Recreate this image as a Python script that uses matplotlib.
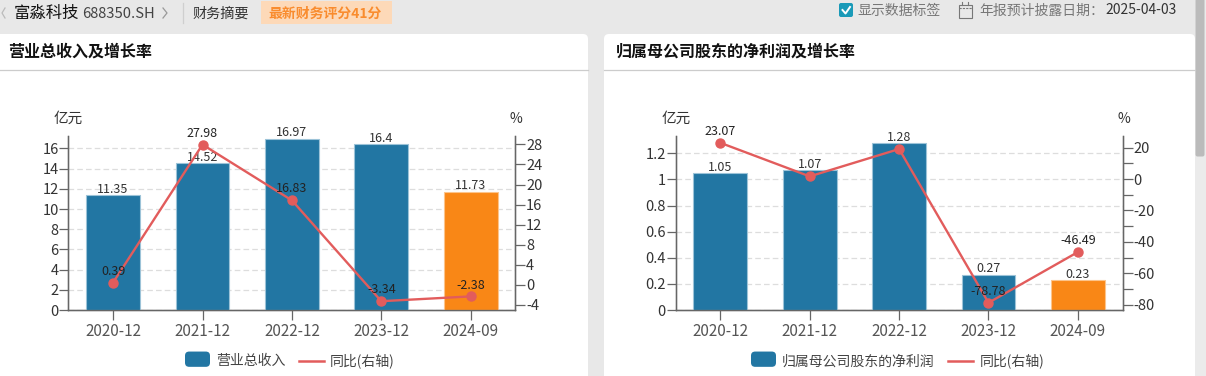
import matplotlib
matplotlib.use('Agg')
from matplotlib import pyplot as plt
from matplotlib.legend_handler import HandlerPatch
from matplotlib.lines import Line2D
from matplotlib.patches import FancyBboxPatch, Patch, Rectangle
from matplotlib.ticker import MultipleLocator, FuncFormatter

plt.rcParams['font.family'] = ['Noto Sans CJK SC', 'DejaVu Sans']

periods = ['2020-12', '2021-12', '2022-12', '2023-12', '2024-09']

revenue = [11.35, 14.52, 16.97, 16.4, 11.73]
revenueGrowth = [0.39, 27.98, 16.83, -3.34, -2.38]
revenueGrowthLabels = ['0.39', '27.98', '16.83', '-3.34', '-2.38']
profit = [1.05, 1.07, 1.28, 0.27, 0.23]
profitGrowth = [23.07, 1.7, 19.1, -78.78, -46.49]
profitGrowthLabels = ['23.07', '', '', '-78.78', '-46.49']

W, H = 1206, 376
BLUE = '#2276a3'
ORANGE = '#f98716'
RED = '#e25c5c'
AXIS = '#666666'
TEXT = '#333333'


class RoundSwatch(HandlerPatch):
    def create_artists(self, legend, orig, xd, yd, w, h, fontsize, trans):
        box = FancyBboxPatch((-xd + 2, -yd + 1), w - 4, h, boxstyle='round,pad=2,rounding_size=3',
                             fc=BLUE, ec='none', transform=trans)
        return [box]


def fmtNum(v, pos=None):
    return '%g' % round(v, 2)


def drawPanel(left, barVals, lineVals, lineLabels, leftLim, rightLim, leftStep, rightStep, rightMinor,
              barName, legendX):
    ax = fig.add_axes([left / W, (H - 310) / H, 447 / W, 174 / H])
    ax.patch.set_visible(False)
    x = range(len(periods))
    colors = [BLUE, BLUE, BLUE, BLUE, ORANGE]
    edges = ['#9cc3d8', '#9cc3d8', '#9cc3d8', '#9cc3d8', '#fcc48b']
    ax.bar(x, barVals, width=0.6, color=colors, edgecolor=edges, linewidth=0.8, zorder=3)
    ax.set_xlim(-0.5, 4.5)
    ax.set_ylim(*leftLim)
    ax.yaxis.set_major_locator(MultipleLocator(leftStep))
    ax.yaxis.set_major_formatter(FuncFormatter(fmtNum))
    ax.grid(axis='y', color='#dddddd', linestyle=(0, (4.5, 2.5)), linewidth=0.9, zorder=1)
    ax.set_axisbelow(True)
    ax.set_xticks(list(x))
    ax.set_xticklabels(periods)

    ax2 = ax.twinx()
    ax2.set_ylim(*rightLim)
    ax2.yaxis.set_major_locator(MultipleLocator(rightStep))
    if rightMinor:
        ax2.yaxis.set_minor_locator(MultipleLocator(rightMinor))
        ax2.tick_params(axis='y', which='minor', length=7.2, width=0.9, color=AXIS)
    ax2.yaxis.set_major_formatter(FuncFormatter(fmtNum))
    ax2.plot(x, lineVals, color=RED, linewidth=1.7, marker='o', markersize=6.5, zorder=5)

    for a in (ax, ax2):
        for side in a.spines:
            a.spines[side].set_color(AXIS)
            a.spines[side].set_linewidth(0.95)
        a.spines['top'].set_visible(False)
    ax.tick_params(axis='y', length=6.5, width=0.9, color=AXIS, labelsize=10.5, labelcolor=TEXT, pad=0.5)
    ax.tick_params(axis='x', length=7.2, width=0.9, color=AXIS, labelsize=11, labelcolor='#555555', pad=2)
    ax2.tick_params(axis='y', length=7.2, width=0.9, color=AXIS, labelsize=10.5, labelcolor=TEXT, pad=0.5)

    for i, v in enumerate(barVals):
        ax.annotate(fmtNum(v), (i, v), xytext=(0, 4.2), textcoords='offset points', ha='center',
                    va='center', fontsize=9, color=TEXT, zorder=6)
    for i, v in enumerate(lineVals):
        ax2.annotate(lineLabels[i], (i, v), xytext=(0, 8.2), textcoords='offset points', ha='center',
                     va='center', fontsize=9, color='#222222', zorder=6)

    bars = Patch(color=BLUE, label=barName)
    line = Line2D([], [], color=RED, linewidth=1.8, label='同比(右轴)')
    ax.legend(handles=[bars, line], handler_map={Patch: RoundSwatch()}, ncol=2, frameon=False,
              loc='center left', bbox_to_anchor=(legendX / W, (H - 361) / H), bbox_transform=fig.transFigure,
              fontsize=10, handlelength=1.8, handletextpad=0.43, columnspacing=1.0, borderpad=0,
              borderaxespad=0, labelcolor='#444444')
    return ax


fig = plt.figure(figsize=(W / 100, H / 100), dpi=100, facecolor='#e8e8e8')

# page furniture in pixel coordinates
bg = fig.add_axes([0, 0, 1, 1], zorder=-1)
bg.set_xlim(0, W)
bg.set_ylim(H, 0)
bg.axis('off')

for cardX, cardW in ((-6, 594), (604, 591)):
    bg.add_patch(FancyBboxPatch((cardX + 5, 39), cardW - 10, 400, boxstyle='round,pad=5,rounding_size=5',
                                fc='white', ec='none'))
bg.plot([0, 588], [69.5, 69.5], color='#cccccc', linewidth=0.9)
bg.plot([604, 1195], [69.5, 69.5], color='#cccccc', linewidth=0.9)

bg.add_patch(Rectangle((1195, 0), 11, H, fc='#ebebeb', ec='none'))
bg.add_patch(FancyBboxPatch((1197, 0), 6, 155, boxstyle='round,pad=1.5,rounding_size=2', fc='#bbbbbb', ec='none'))

# header
bg.plot([5, 2, 5], [8, 13, 18], color='#bbbbbb', linewidth=0.9)
bg.text(14, 13, '富淼科技', fontsize=11.8, color='#111111', va='center')
bg.text(82, 13.5, '688350.SH', fontsize=10.6, color='#444444', va='center')
bg.plot([163, 167, 163], [8, 13, 18], color='#999999', linewidth=0.9)
bg.plot([182.5, 182.5], [3, 23], color='#cfcfcf', linewidth=0.9)
bg.text(192, 14, '财务摘要', fontsize=10.2, color='#333333', va='center')
bg.add_patch(Rectangle((261, 1), 131, 23, fc='#fdd9b8', ec='none'))
bg.text(268, 14, '最新财务评分41分', fontsize=10, color='#f98c2e', va='center', fontweight='bold')
bg.add_patch(FancyBboxPatch((840, 4), 12, 12, boxstyle='round,pad=1,rounding_size=2', fc='#1a9ab8', ec='none'))
bg.plot([842.5, 845.5, 850], [10, 13.5, 7], color='white', linewidth=1.4)
bg.text(857, 10.5, '显示数据标签', fontsize=10, color='#777777', va='center')
bg.add_patch(Rectangle((958.5, 4.5), 13, 13.5, fc='none', ec='#777777', linewidth=0.8))
bg.plot([958.5, 971.5], [8, 8], color='#777777', linewidth=0.8, linestyle=(0, (2, 1)))
bg.plot([962, 962], [2, 5], color='#777777', linewidth=0.8)
bg.plot([968, 968], [2, 5], color='#777777', linewidth=0.8)
bg.text(979, 10.5, '年报预计披露日期：', fontsize=10, color='#777777', va='center')
bg.text(1177, 10.5, '2025-04-03', fontsize=10, color='#333333', va='center', ha='right')

# panel titles and axis units
bg.text(8, 52, '营业总收入及增长率', fontsize=11.5, fontweight='bold', color='#111111', va='center')
bg.text(616, 52, '归属母公司股东的净利润及增长率', fontsize=11.5, fontweight='bold', color='#111111', va='center')
bg.text(54, 119, '亿元', fontsize=10.5, color=TEXT, va='center')
bg.text(510, 119, '%', fontsize=10, color=TEXT, va='center')
bg.text(662, 119, '亿元', fontsize=10.5, color=TEXT, va='center')
bg.text(1117, 119, '%', fontsize=10, color=TEXT, va='center')

drawPanel(68.4, revenue, revenueGrowth, revenueGrowthLabels, (0, 17.23), (-5.1, 29.7), 2, 4, None,
          '营业总收入', 185)
drawPanel(675.6, profit, profitGrowth, profitGrowthLabels, (0, 1.333), (-83.4, 27.4), 0.2, 20, 10,
          '归属母公司股东的净利润', 751)

fig.savefig('out.png', dpi=100, facecolor=fig.get_facecolor())
